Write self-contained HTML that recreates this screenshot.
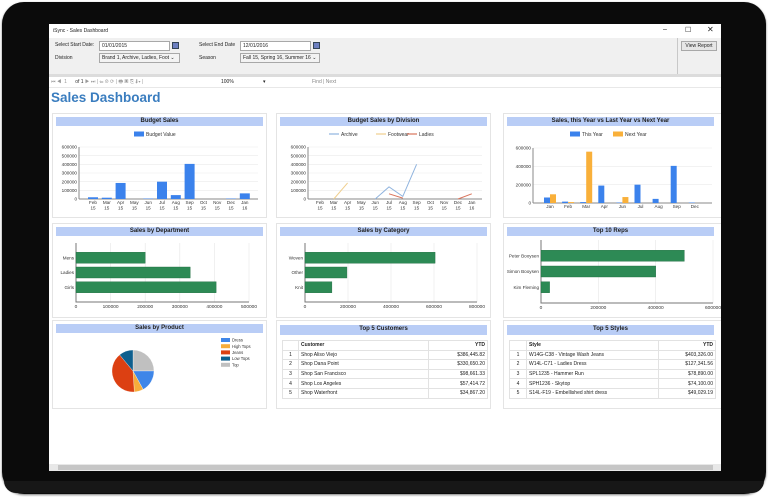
<!DOCTYPE html>
<html><head><meta charset="utf-8">
<style>
*{box-sizing:border-box;margin:0;padding:0}
body{width:768px;height:497px;background:#fff;position:relative;overflow:hidden;font-family:"Liberation Sans",sans-serif;}
.abs{position:absolute}
.frame{left:2px;top:2px;width:764px;height:492px;background:#0b0b0b;border-radius:22px;box-shadow:0 1px 2px #777}
.frame-bottom{left:4px;top:481px;width:760px;height:12px;background:#171717;border-radius:0 0 20px 20px}
.screen{left:49px;top:24px;width:672px;height:447px;background:#fff;overflow:hidden}
.lbl{font-size:5.5px;color:#222;position:absolute;white-space:nowrap}
.inp{position:absolute;background:#fff;border:1px solid #a8a8a8;font-size:5px;padding:1px 2px;color:#222;white-space:nowrap;overflow:hidden}
.panel{position:absolute;border:1px solid #e4e4e4;background:#fff}
.phead{position:absolute;left:3px;right:3px;top:3px;height:9px;background:#b9cdf6;font-size:6px;font-weight:bold;text-align:center;line-height:9px;color:#222}
table{border-collapse:collapse;font-size:5px;color:#222;position:absolute}
td{border:1px solid #e2e2e2;height:9.6px;padding:0 2px}
</style></head><body>
<div class="abs frame"></div>
<div class="abs frame-bottom"></div>
<div class="abs screen">
  <div class="abs" style="left:0;top:0;width:672px;height:14px;background:#fff">
    <span class="lbl" style="left:4px;top:4px;font-size:5px">iSync - Sales Dashboard</span>
    <span class="lbl" style="left:614px;top:2px;font-size:7px">–</span>
    <span class="lbl" style="left:636px;top:2px;font-size:7px">☐</span>
    <span class="lbl" style="left:658px;top:1px;font-size:8px">✕</span>
  </div>
  <div class="abs" style="left:0;top:14px;width:672px;height:38px;background:#f0f0f0">
    <span class="lbl" style="left:6px;top:4px;font-size:5px">Select Start Date:</span>
    <div class="inp" style="left:50px;top:3px;width:71px;height:10px">01/01/2015</div>
    <div class="abs" style="left:123px;top:4px;width:7px;height:7px;background:#6c7fc0;border:1px solid #345"></div>
    <span class="lbl" style="left:150px;top:4px;font-size:5px">Select End Date</span>
    <div class="inp" style="left:191px;top:3px;width:71px;height:10px">12/01/2016</div>
    <div class="abs" style="left:264px;top:4px;width:7px;height:7px;background:#6c7fc0;border:1px solid #345"></div>
    <span class="lbl" style="left:6px;top:17px;font-size:5px">Division</span>
    <div class="inp" style="left:50px;top:15px;width:81px;height:10px;background:#f3f3f3">Brand 1, Archive, Ladies, Foot ⌄</div>
    <span class="lbl" style="left:150px;top:17px;font-size:5px">Season</span>
    <div class="inp" style="left:191px;top:15px;width:80px;height:10px;background:#f3f3f3">Fall 15, Spring 16, Summer 16 ⌄</div>
    <div class="abs" style="left:628px;top:0;width:1px;height:38px;background:#c8c8c8"></div>
    <div class="inp" style="left:632px;top:3px;width:36px;height:10px;background:#e6e6e6;text-align:center">View Report</div>
  </div>
  <div class="abs" style="left:0;top:50px;width:672px;height:3px;background:#dcdcdc"></div>
  <div class="abs" style="left:0;top:53px;width:672px;height:11px;background:#fff;border-bottom:1px solid #e8e8e8">
    <span class="lbl" style="left:2px;top:2px;font-size:5px;color:#999">⏮ ◀ &nbsp;1&nbsp;&nbsp;&nbsp;&nbsp;&nbsp; <span style="color:#333">of 1</span> ▶ ⏭ | ⇐ ⊗ ⟳ | 🖶 ▣ ⎘ ⬇▾ |</span>
    <span class="lbl" style="left:172px;top:2px;font-size:5px">100%</span>
    <span class="lbl" style="left:214px;top:2px;font-size:5px">▾</span>
    <span class="lbl" style="left:263px;top:2px;font-size:5px;color:#888">Find | Next</span>
  </div>
  <div class="abs" style="left:2px;top:66px;font-size:13.5px;font-weight:bold;color:#3a7dbf">Sales Dashboard</div>

  <div class="panel" style="left:3px;top:89px;width:215px;height:105px"><div class="phead">Budget Sales</div></div>
  <div class="panel" style="left:227px;top:89px;width:215px;height:105px"><div class="phead">Budget Sales by Division</div></div>
  <div class="panel" style="left:454px;top:89px;width:220px;height:105px"><div class="phead" style="right:8px">Sales, this Year vs Last Year vs Next Year</div></div>

  <div class="panel" style="left:3px;top:199px;width:215px;height:95px"><div class="phead">Sales by Department</div></div>
  <div class="panel" style="left:227px;top:199px;width:215px;height:95px"><div class="phead">Sales by Category</div></div>
  <div class="panel" style="left:454px;top:199px;width:220px;height:95px"><div class="phead" style="right:8px">Top 10 Reps</div></div>

  <div class="panel" style="left:3px;top:296px;width:215px;height:89px"><div class="phead">Sales by Product</div></div>
  <div class="panel" style="left:227px;top:296px;width:215px;height:89px"><div class="phead" style="top:4px;height:10px">Top 5 Customers</div>
    <table style="left:5px;top:19px;width:206px">
      <tr><td style="width:16px"></td><td style="font-weight:bold;width:130px">Customer</td><td style="font-weight:bold;text-align:right">YTD</td></tr>
      <tr><td style="text-align:center">1</td><td>Shop Aliso Viejo</td><td style="text-align:right">$386,445.82</td></tr>
      <tr><td style="text-align:center">2</td><td>Shop Dana Point</td><td style="text-align:right">$330,650.20</td></tr>
      <tr><td style="text-align:center">3</td><td>Shop San Francisco</td><td style="text-align:right">$98,661.33</td></tr>
      <tr><td style="text-align:center">4</td><td>Shop Los Angeles</td><td style="text-align:right">$57,414.72</td></tr>
      <tr><td style="text-align:center">5</td><td>Shop Waterfront</td><td style="text-align:right">$34,867.20</td></tr>
    </table></div>
  <div class="panel" style="left:454px;top:296px;width:220px;height:89px"><div class="phead" style="top:4px;height:10px;right:8px">Top 5 Styles</div>
    <table style="left:5px;top:19px;width:207px">
      <tr><td style="width:17px"></td><td style="font-weight:bold;width:132px">Style</td><td style="font-weight:bold;text-align:right">YTD</td></tr>
      <tr><td style="text-align:center">1</td><td>W14G-C38 - Vintage Wash Jeans</td><td style="text-align:right">$403,326.00</td></tr>
      <tr><td style="text-align:center">2</td><td>W14L-C71 - Ladies Dress</td><td style="text-align:right">$127,341.56</td></tr>
      <tr><td style="text-align:center">3</td><td>SPL1235 - Hammer Run</td><td style="text-align:right">$78,890.00</td></tr>
      <tr><td style="text-align:center">4</td><td>SPH1236 - Skytop</td><td style="text-align:right">$74,100.00</td></tr>
      <tr><td style="text-align:center">5</td><td>S14L-F19 - Embellished shirt dress</td><td style="text-align:right">$49,029.19</td></tr>
    </table></div>

  <div class="abs" style="left:0;top:440px;width:672px;height:7px;background:#e8e8e8">
    <div class="abs" style="left:9px;top:1px;width:655px;height:5px;background:#c6c6c6"></div>
  </div>
</div>
<svg id="charts" class="abs" style="left:0;top:0" width="768" height="497"></svg>
<script>
// ---- data ----
const budgetCats = ["Feb 15","Mar 15","Apr 15","May 15","Jun 15","Jul 15","Aug 15","Sep 15","Oct 15","Nov 15","Dec 15","Jan 16"];
const budgetValues = [20000,15000,185000,0,5000,200000,45000,405000,0,0,5000,65000];
const budgetTicks = [0,100000,200000,300000,400000,500000,600000];
const archiveValues = [null,null,null,null,0,140000,30000,400000,null,null,null,null];
const footwearValues = [null,0,185000,null,null,null,null,null,null,null,null,null];
const ladiesValues = [null,null,null,null,null,60000,10000,null,null,null,0,60000];
const yearCats = ["Jan","Feb","Mar","Apr","Jun","Jul","Aug","Sep","Dec"];
const thisYear = [60000,15000,10000,190000,5000,200000,45000,405000,5000];
const nextYear = [95000,10000,560000,0,65000,0,0,0,0];
const yearTicks = [0,200000,400000,600000];
const deptCats = ["Mens","Ladies","Girls"];
const deptValues = [200000,330000,405000];
const deptTicks = [0,100000,200000,300000,400000,500000];
const catCats = ["Woven","Other","Knit"];
const catValues = [605000,195000,125000];
const catTicks = [0,200000,400000,600000,800000];
const repCats = ["Peter Booysen","Simon Booysen","Kim Fleming"];
const repValues = [500000,400000,30000];
const repTicks = [0,200000,400000,600000];
const productCats = ["Top","Dress","High Tops","Jeans","Low Tops"];
const productValues = [25,17,7,40,11];
const productColors = ["#c0c0c0","#3f86e8","#f7ad3b","#dc4012","#0f5f8e"];
const legendOrder = ["Dress","High Tops","Jeans","Low Tops","Top"];
const legendColors = ["#3f86e8","#f7ad3b","#dc4012","#0f5f8e","#c0c0c0"];

const svg = document.getElementById('charts');
const NS = "http://www.w3.org/2000/svg";
function mk(tag, attrs, text){const e=document.createElementNS(NS,tag);for(const k in attrs)e.setAttribute(k,attrs[k]);if(text!==undefined)e.textContent=text;svg.appendChild(e);return e;}
const F = "Liberation Sans, sans-serif";

function vAxes(x0,x1,yTop,yBot,maxV,ticks,name){
  const y = v => yBot - v/maxV*(yBot-yTop);
  ticks.forEach(t=>{
    const g=mk('line',{x1:x0,x2:x1,y1:y(t),y2:y(t),stroke:t===0?'#888':'#eaeaea','stroke-width':t===0?1:0.6});
    
    
    const l=mk('text',{x:x0-2,y:y(t)+1.6,'font-size':4.6,'text-anchor':'end','font-family':F,fill:'#333'},String(t));
    
    
  });
  const a=mk('line',{x1:x0,x2:x0,y1:yTop,y2:yBot,stroke:'#888','stroke-width':1});
  
  
  return y;
}
function catLabels(cats,xf,yb,name){
  cats.forEach((c,i)=>{
    const parts=c.split(' ');
    parts.forEach((p,j)=>{
      const t=mk('text',{x:xf(i),y:yb+5+j*5.5,'font-size':4.6,'text-anchor':'middle','font-family':F,fill:'#333'},p);
      
      
    });
  });
}
function legendItem(x,y,color,label,line,name){
  const r = line ? mk('line',{x1:x,x2:x+10,y1:y,y2:y,stroke:color,'stroke-width':1.2}) : mk('rect',{x:x,y:y-2.5,width:10,height:5,fill:color});
  
  
  const t=mk('text',{x:x+12,y:y+1.8,'font-size':5,'font-family':F,fill:'#333'},label);
  
  
}

// Chart 1: Budget Sales
(function(){
  const y=vAxes(79,258,147,199,600000,budgetTicks,'budget');
  const xf=i=>93+i*13.8;
  budgetValues.forEach((v,i)=>{
    const b=mk('rect',{x:xf(i)-5,y:y(v),width:10,height:199-y(v),fill:'#3b82ec'});
    
    
  });
  catLabels(budgetCats,xf,199,'budget');
  legendItem(134,134,'#3b82ec','Budget Value',false,'budget');
})();

// Chart 2: Division lines
(function(){
  const y=vAxes(308,482,147,199,600000,budgetTicks,'division');
  const xf=i=>320+i*13.8;
  [[archiveValues,'#8fb3de','archive'],[footwearValues,'#f0cf8e','footwear'],[ladiesValues,'#d9745c','ladies']].forEach(([vals,col,nm])=>{
    let seg=[];
    const flush=()=>{ if(seg.length>1){const p=mk('polyline',{points:seg.join(' '),fill:'none',stroke:col,'stroke-width':1});
      
      } seg=[]; };
    vals.forEach((v,i)=>{ if(v===null){flush();} else seg.push(xf(i)+','+y(v)); });
    flush();
  });
  catLabels(budgetCats,xf,199,'division');
  legendItem(329,134,'#8fb3de','Archive',true,'division');
  legendItem(376,134,'#f0cf8e','Footwear',true,'division');
  legendItem(407,134,'#d9745c','Ladies',true,'division');
})();

// Chart 3: Year compare
(function(){
  const y=vAxes(533,712,148,203,600000,yearTicks,'year');
  const xf=i=>550+i*18.1;
  thisYear.forEach((v,i)=>{
    const b=mk('rect',{x:xf(i)-6,y:y(v),width:6,height:203-y(v),fill:'#3b82ec'});
    
    
  });
  nextYear.forEach((v,i)=>{
    const b=mk('rect',{x:xf(i),y:y(v),width:6,height:203-y(v),fill:'#f9b03a'});
    
    
  });
  catLabels(yearCats,xf,203,'year');
  legendItem(570,134,'#3b82ec','This Year',false,'year');
  legendItem(613,134,'#f9b03a','Next Year',false,'year');
})();

// Horizontal bar charts
function hbar(x0,x1,yTop,yBot,maxV,ticks,cats,vals,name){
  const x=v=>x0+v/maxV*(x1-x0);
  ticks.forEach(t=>{
    const g=mk('line',{x1:x(t),x2:x(t),y1:yTop,y2:yBot,stroke:'#e6e6e6','stroke-width':0.6});
    
    
    const l=mk('text',{x:x(t),y:yBot+6,'font-size':4.8,'text-anchor':'middle','font-family':F,fill:'#333'},String(t));
    
    
  });
  const a=mk('polyline',{points:`${x0},${yTop} ${x0},${yBot} ${x1},${yBot}`,fill:'none',stroke:'#777','stroke-width':1});
  
  
  const step=(yBot-yTop)/(cats.length+1);
  cats.forEach((c,i)=>{
    const cy=yTop+step*(i+1);
    const b=mk('rect',{x:x0,y:cy-5.5,width:x(vals[i])-x0,height:11,fill:'#2d8a55',stroke:'#1f6b40','stroke-width':0.4});
    
    
    const t=mk('text',{x:x0-2,y:cy+1.6,'font-size':4.6,'text-anchor':'end','font-family':F,fill:'#333'},c);
    
    
  });
}
hbar(76,249,243,302,500000,deptTicks,deptCats,deptValues,'department');
hbar(305,477,243,302,800000,catTicks,catCats,catValues,'category');
hbar(541,713,240,303,600000,repTicks,repCats,repValues,'reps');

// Pie
(function(){
  const cx=133,cy=371,r=21;
  const total=productValues.reduce((a,b)=>a+b,0);
  let ang=-Math.PI/2;
  productValues.forEach((v,i)=>{
    const a2=ang+v/total*2*Math.PI;
    const large=(a2-ang)>Math.PI?1:0;
    const d=`M${cx},${cy} L${cx+r*Math.cos(ang)},${cy+r*Math.sin(ang)} A${r},${r} 0 ${large} 1 ${cx+r*Math.cos(a2)},${cy+r*Math.sin(a2)} Z`;
    const p=mk('path',{d:d,fill:productColors[i],stroke:'#fff','stroke-width':0.3});
    
    
    ang=a2;
  });
  legendOrder.forEach((c,i)=>{
    const y=340+i*6.2;
    const s=mk('rect',{x:221,y:y-2,width:9,height:4,fill:legendColors[i]});
    
    
    const t=mk('text',{x:232,y:y+1.6,'font-size':4.2,'font-family':F,fill:'#333'},c);
    
    
  });
})();
</script>
</body></html>
